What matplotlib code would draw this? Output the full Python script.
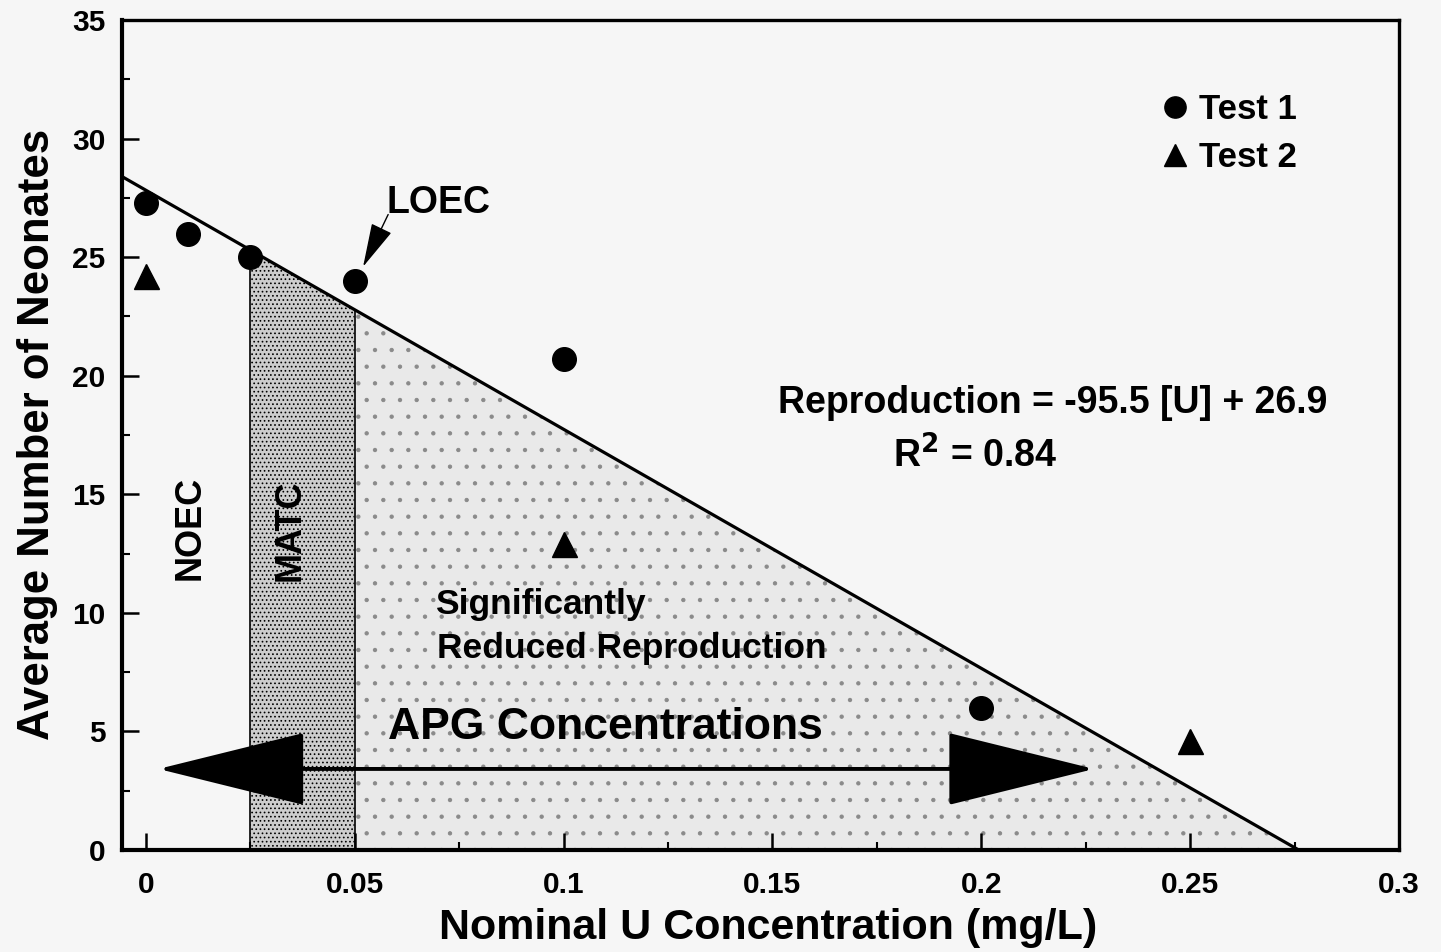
import matplotlib
matplotlib.use("Agg")
import matplotlib.pyplot as plt
import numpy as np

# data
test1_x = [0.0, 0.01, 0.025, 0.05, 0.1, 0.2]
test1_y = [27.3, 26.0, 25.0, 24.0, 20.7, 6.0]
test2_x = [0.0, 0.1, 0.25]
test2_y = [24.2, 12.9, 4.6]

# regression line as drawn
fit_x = [-0.0057, 0.276]
fit_y = [28.4, 0.0]

noec = 0.025
loec = 0.05
apg_range = [0.003, 0.227]
apg_level = 3.42

x_ticks = [0, 0.05, 0.1, 0.15, 0.2, 0.25, 0.3]
x_ticklabels = ["0", "0.05", "0.1", "0.15", "0.2", "0.25", "0.3"]
y_ticks = [0, 5, 10, 15, 20, 25, 30, 35]

plt.rcParams["font.family"] = ["Liberation Sans", "DejaVu Sans"]
plt.rcParams["font.weight"] = "bold"
plt.rcParams["hatch.linewidth"] = 0.7

bg = "#f6f6f6"
fig = plt.figure(figsize=(14.41, 9.52), dpi=100, facecolor=bg)
ax = fig.add_axes([0.0847, 0.1071, 0.8862, 0.8718], facecolor=bg)

# shaded regions under the fit line
xs = np.linspace(noec, loec, 50)
ax.fill_between(xs, 0, np.interp(xs, fit_x, fit_y), facecolor="#cdcdcd",
                edgecolor="black", hatch="....", linewidth=0)
xs = np.linspace(loec, fit_x[1], 200)
ax.fill_between(xs, 0, np.interp(xs, fit_x, fit_y), facecolor="#e9e9e9",
                edgecolor="#8a8a8a", hatch=".", linewidth=0)
ax.plot([noec, noec], [0, np.interp(noec, fit_x, fit_y)], color="black", lw=1.2)
ax.plot([loec, loec], [0, np.interp(loec, fit_x, fit_y)], color="black", lw=1.2)

# regression line
ax.plot(fit_x, fit_y, color="black", lw=2.3, solid_capstyle="butt")

# points
ax.plot(test1_x, test1_y, "o", color="black", ms=17, label="Test 1", clip_on=False)
ax.plot(test2_x, test2_y, "^", color="black", ms=18, label="Test 2", clip_on=False)

# APG double arrow
ax.annotate("", xy=(apg_range[0], apg_level), xytext=(apg_range[1], apg_level),
            arrowprops=dict(arrowstyle="<|-|>,head_length=9.7,head_width=2.4",
                            mutation_scale=10, color="black", lw=2.8,
                            shrinkA=0, shrinkB=0))
ax.text(0.1099, 5.15, "APG Concentrations", fontsize=32, fontweight="bold",
        ha="center", va="center")

# LOEC pointer
ax.annotate("", xy=(0.052, 24.6), xytext=(0.058, 26.8),
            arrowprops=dict(arrowstyle="-|>,head_length=2.8,head_width=0.7",
                            mutation_scale=10, color="black", lw=1,
                            shrinkA=0, shrinkB=0))
ax.text(0.0577, 27.3, "LOEC", fontsize=27, fontweight="bold", ha="left", va="center")

ax.text(0.0105, 13.6, "NOEC", fontsize=26, fontweight="bold", rotation=90,
        ha="center", va="center")
ax.text(0.0345, 13.5, "MATC", fontsize=26, fontweight="bold", rotation=90,
        ha="center", va="center")
ax.text(0.0692, 10.37, "Significantly", fontsize=25.5, fontweight="bold",
        ha="left", va="center")
ax.text(0.0697, 8.48, "Reduced Reproduction", fontsize=25.5, fontweight="bold",
        ha="left", va="center")
ax.text(0.1513, 18.85, "Reproduction = -95.5 [U] + 26.9", fontsize=27,
        fontweight="bold", ha="left", va="center")
ax.text(0.1788, 16.6, r"R$^{\mathbf{2}}$ = 0.84", fontsize=27,
        fontweight="bold", ha="left", va="center")

leg = ax.legend(loc="upper left", bbox_to_anchor=(0.80, 0.9325), frameon=False,
                fontsize=25, handlelength=0.8, handletextpad=0.3,
                borderpad=0, labelspacing=0.41, markerscale=0.9)

# axes
ax.set_xlim(-0.0057, 0.3)
ax.set_ylim(0, 35)
ax.set_xticks(x_ticks)
ax.set_xticklabels(x_ticklabels)
ax.set_xticks(np.arange(0, 0.3, 0.025), minor=True)
ax.set_yticks(y_ticks)
ax.set_yticks(np.arange(0, 35, 2.5), minor=True)
ax.tick_params(axis="both", which="major", direction="in", length=12, width=1.8,
               labelsize=21.5)
ax.tick_params(axis="both", which="minor", direction="in", length=6, width=1.5)
ax.tick_params(axis="x", pad=15)
ax.tick_params(axis="y", pad=12)
for lab in ax.get_xticklabels() + ax.get_yticklabels():
    lab.set_fontweight("bold")
for side in ["left", "bottom"]:
    ax.spines[side].set_linewidth(3)
for side in ["top", "right"]:
    ax.spines[side].set_linewidth(2.4)

fig.text(0.026, 0.544, "Average Number of Neonates", rotation=90, fontsize=31.5,
         fontweight="bold", ha="center", va="center")
fig.text(0.533, 0.025, "Nominal U Concentration (mg/L)", fontsize=31,
         fontweight="bold", ha="center", va="center")

fig.savefig("out.png", dpi=100, facecolor=bg)
